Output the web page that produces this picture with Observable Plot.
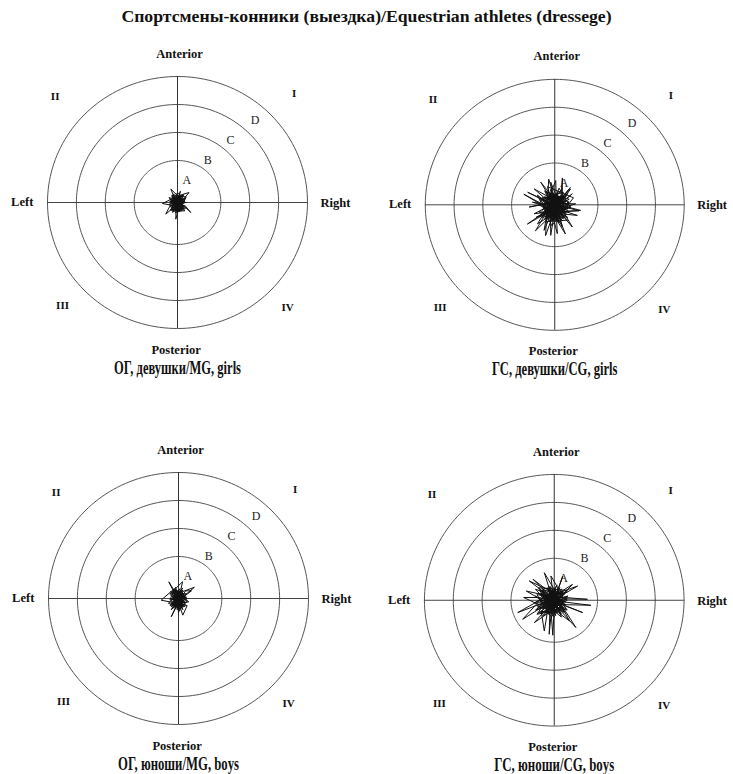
<!DOCTYPE html>
<html><head><meta charset="utf-8">
<script src="https://cdn.jsdelivr.net/npm/d3@7"></script>
<script src="https://cdn.jsdelivr.net/npm/@observablehq/plot@0.6"></script>
<style>
body{margin:0;background:#fff;}
#page{position:relative;width:733px;height:774px;overflow:hidden;font-family:"Liberation Serif","Times New Roman",serif;background:#fff;}
#title{position:absolute;left:0;top:6px;width:733px;text-align:center;font-weight:bold;font-size:17.7px;color:#111;}
.panel{position:absolute;}
</style></head><body>
<div id="page"><div id="title">Спортсмены-конники (выездка)/Equestrian athletes (dressege)</div></div>
<script>
// ---------- data ----------
const panelTitles = ["ОГ, девушки/MG, girls", "ГС, девушки/CG, girls", "ОГ, юноши/MG, boys", "ГС, юноши/CG, boys"];
const directionLabels = ["Anterior", "Posterior", "Left", "Right"];
const quadrantLabels = ["I", "II", "III", "IV"];
const ringLabels = ["A", "B", "C", "D"];
const ringRadii = [3, 5, 7, 9];

// statokinesigram traces (units, x = left/right, y = posterior/anterior)
const mgGirlsX = [0,0.3,-0.2,0.1,-0.4,0.5,-0.1,-0.46,-0.2,0.2,-0.3,0.4,0.1,0.8,0.3,-0.5,-1.04,-0.4,0.2,-0.1,-0.12,0.1,0.5,0.92,0.3,-0.3,-0.6,-0.81,-0.2,0.4,0.0,-0.3,0.2,0.6,-0.4,0.1,-0.5,0.3,0.0,-0.2,0.45,-0.1,0.25,-0.35,0.15,-0.55,0.35,0.05,-0.25,0.55,-0.15,0.2,-0.4,0.1,0.6,-0.2,0.0,0.3,-0.1,0.2,0.0,
  -0.3,0.2,-0.5,0.35,-0.15,0.45,-0.4,0.05,-0.6,0.3,-0.2,0.5,-0.35,0.15,-0.45,0.25,-0.1,0.4,-0.55,0.1,-0.25,0.35,-0.05,0.5,-0.4,0.2,-0.3,0.0,0.45,-0.6,0.15,-0.2,0.3,-0.5,0.1,-0.15,0.55,-0.35,0.05];
const mgGirlsY = [0,0.2,0.4,-0.3,-0.1,0.1,0.6,0.95,0.3,-0.2,-0.5,-0.4,0.5,0.71,0.1,0.2,-0.07,-0.2,0.3,-0.6,-1.19,-0.4,-0.2,-0.71,-0.1,0.1,-0.4,-0.83,-0.3,0.3,0.7,0.2,-0.5,0.4,0.5,0.0,-0.3,-0.6,0.2,-0.1,0.55,0.3,-0.35,-0.7,0.15,0.05,-0.05,-0.25,0.45,-0.45,-0.45,0.4,0.3,-0.1,0.0,0.1,-0.5,0.3,-0.2,0.8,0.1,
  -0.2,-0.6,0.1,0.25,-0.75,-0.3,0.45,-0.4,-0.15,0.5,-0.5,0.2,0.3,-0.65,-0.45,0.1,0.5,-0.55,0.25,-0.15,-0.35,-0.2,0.35,-0.6,-0.6,0.3,0.6,-0.7,0.05,0.35,-0.3,0.15,-0.45,-0.55,0.45,-0.2,0.3,0.0,0.05];

const cgGirlsX = [0,0.4,-1.88,-0.2,0.53,0.53,0.4,-0.5,-0.74,-0.1,1.22,0.2,-1.55,-0.3,0.18,0.1,1.8,0.3,-0.97,-0.2,-1.2,0.0,1.57,0.5,-0.28,-0.1,-1.78,-0.4,0.53,0.2,1.1,0.3,-1.43,-0.3,-0.28,0.0,1.45,0.4,-1.43,-0.5,0.07,0.1,1.22,0.4,-0.9,-0.2,0.8,-0.6,0.9,-0.8,0.2,-0.3,0.7,-1.0,0.6,-0.5,1.0,-0.7,0.3,-1.1,0.8,-0.4,0.5,-0.9,0.1,-0.5,1.3,-0.2,-1.2,0.9,-0.6,0.3,1.1,-1.3,0.6,-0.2,0.0,0.7,-0.8,0.4,-0.3,0.9,-0.7,0.2,-0.1,0.6,-0.5,0.2,-2.15,-0.4,0.74,0.1,-1.34,-0.2,1.68,0.3,-0.42,-0.64,0.2,1.09,-0.1,-1.9,0.0,
  0.2,-0.6,0.8,-0.3,0.5,-0.9,0.1,-0.4,1.0,-0.7,0.3,-0.2,0.7,-1.0,0.4,-0.5,0.9,-0.1,0.6,-0.8,0.2,-0.4,1.1,-0.6,0.0,0.5,-0.9,0.3,-0.2,0.8,-0.7,0.1,-0.3,0.6,-1.1,0.4,-0.5,0.9,-0.1,0.2,-0.8,0.7,-0.4,0.3,-0.6,1.0,-0.2,0.5,-1.0,0.1,-0.3,0.8,-0.5,0.0,0.4,-0.7,0.6,-0.1,0.2,-0.4,0.0];
const cgGirlsY = [0,-0.3,0.9,0.1,0.1,1.93,0.2,-0.4,-1.83,-0.3,0.79,-0.1,0.19,-0.2,-2.07,-0.5,-0.4,0.0,1.62,0.3,-1.36,-0.6,-0.76,-0.4,1.62,0.2,-0.16,0.1,-1.59,-0.2,1.14,0.3,-0.64,-0.5,-2.19,-0.4,0.07,0.1,1.14,0.3,1.74,0.4,-1.59,-0.6,-0.9,-0.1,0.6,0.5,-0.3,-0.2,0.8,-1.1,-0.9,0.4,0.9,-0.8,0.2,1.0,-1.2,-0.5,-0.6,0.7,0.4,0.0,-0.9,1.3,0.5,-1.5,0.7,-1.1,-1.2,1.2,-0.2,-0.9,0.2,0.9,-0.8,0.6,0.3,-0.9,0.5,0.0,-0.6,0.5,-1.0,-0.3,0.0,-0.7,0.76,-0.2,-2.09,-0.4,-1.86,0.1,-0.43,-0.5,1.84,-2.21,0.2,1.24,-0.3,-1.38,0.0,
  -0.4,0.2,-0.7,-1.0,0.7,-0.4,0.5,-0.6,-0.5,0.6,-1.3,0.4,0.1,-0.8,1.0,-0.1,-0.9,-0.7,0.5,0.1,-1.0,0.8,-0.1,-0.9,0.3,-0.6,0.5,0.6,-1.2,0.3,-0.3,-0.2,1.1,-1.0,0.0,0.2,-0.5,0.8,-0.5,0.9,-0.7,-0.3,0.3,-0.8,0.9,0.4,-0.3,-1.1,0.3,0.7,-0.8,-0.5,0.6,-1.0,0.4,-1.0,0.0,0.6,-0.6,-0.2,0.0];

const mgBoysX = [0,0.3,-0.2,0.4,-0.5,0.1,-0.3,0.2,-0.67,-0.2,0.5,-0.1,0.3,1.1,0.4,-0.4,-1.2,-0.3,0.2,-0.5,-0.1,0.6,0.3,0.0,-0.6,0.28,0.1,0.71,0.2,-0.4,0.5,0.9,0.2,-0.6,-0.2,0.3,-0.35,0.45,0.0,-0.5,0.25,-0.15,0.55,-0.45,0.1,-0.25,0.35,-0.7,0.15,0.6,-0.3,0.05,-0.55,0.4,0.0,-0.1,0.3,-0.2,0.1,
  -0.4,0.3,-0.2,0.5,-0.6,0.2,-0.3,0.4,-0.5,0.1,-0.15,0.55,-0.45,0.25,-0.05,0.35,-0.6,0.15,-0.3,0.45,-0.2,0.3,-0.55,0.0,0.4,-0.35,0.2,-0.1,0.6,-0.4,0.1,-0.25,0.35,-0.5,0.05];
const mgBoysY = [0,-0.2,0.5,0.3,-0.4,0.7,0.1,-0.6,1.19,0.4,-0.1,-0.8,0.5,0.8,0.2,0.6,-0.12,-0.3,0.1,-1.3,-0.4,-0.5,-1.19,-0.3,0.3,1.2,0.3,-0.24,-0.3,-0.7,0.55,0.55,0.0,-0.1,0.8,-0.8,0.2,-0.35,0.45,-0.6,0.25,-0.15,0.1,0.35,-0.55,0.65,-0.6,-0.35,0.6,-0.25,-0.5,0.2,0.5,-0.05,-1.0,0.1,0.35,-0.25,0.0,
  -0.3,0.6,-0.7,-0.4,0.4,-0.1,0.7,0.1,-0.8,0.4,-0.45,0.35,0.15,-0.7,0.6,-0.2,-0.5,0.2,0.45,-0.6,0.0,0.75,-0.2,-0.6,0.4,-0.65,0.55,-0.3,0.0,0.6,-0.85,0.25,-0.45,0.0,0.15];

const cgBoysX = [0,-0.5,-2.53,-0.8,0.3,-1.73,-0.6,0.2,2.54,0.5,-0.3,-0.35,-0.2,0.4,1.27,0.3,-0.9,-2.19,-0.7,0.1,-0.69,-0.3,0.6,1.5,0.4,-0.5,-1.94,-0.8,0.2,2.3,0.7,-0.4,-1.38,-0.6,0.3,-0.23,-0.1,0.8,1.97,0.5,-1.0,-2.12,-1.1,0.0,-0.1,-0.2,0.5,1.62,0.6,-0.7,-1.47,-0.6,0.4,1.06,0.3,-0.9,-0.69,-0.5,0.1,0.6,0.3,-1.2,0.9,-1.0,0.7,-0.4,0.5,-1.3,0.2,-0.8,0.9,-1.1,0.0,-0.6,0.8,-1.4,0.4,-0.3,-0.9,0.6,-1.2,0.2,-0.5,0.95,-0.7,0.1,-1.3,0.5,-0.2,-0.8,0.3,-0.4,0.0,
  0.2,-0.9,0.6,-0.4,0.8,-1.1,0.3,-0.6,0.9,-0.8,0.1,-0.3,0.7,-1.2,0.4,-0.5,0.6,-0.9,0.0,-0.7,0.5,-0.2,0.9,-1.0,0.2,-0.6,0.7,-0.4,0.1,-1.3,0.5,-0.1,0.8,-0.8,0.3,-0.5,0.6,-1.1,0.0,-0.3,0.9,-0.7,0.4,-0.9,0.2,-0.4,0.7,-0.2,-1.2,0.1,-0.6,0.5,-0.3,0.0];
const cgBoysY = [0,0.3,-0.88,-0.2,0.4,1.38,0.5,-0.3,-0.36,-0.1,-0.6,-2.43,-0.8,0.2,1.14,0.5,0.1,-1.36,-0.4,0.6,1.97,0.7,-0.5,-1.95,-0.7,-0.2,0.66,0.4,0.1,0.07,0.2,-0.9,-1.6,-0.7,0.8,1.74,0.5,-0.4,-0.88,-0.3,0.2,0.2,-0.3,-0.5,-2.5,-1.1,0.6,1.02,0.4,0.9,1.5,0.6,-0.2,-1.48,-0.9,-0.8,-2.2,-1.0,0.3,1.74,0.9,-0.6,0.1,0.7,-0.9,1.0,-1.2,0.3,-0.6,-1.1,0.7,0.9,-1.2,0.2,-0.1,-0.2,0.9,-0.4,0.5,-0.6,-1.0,1.1,-0.5,0.3,-0.1,-0.9,0.8,0.0,0.2,-0.6,-0.3,0.4,0.0,
  -0.5,0.3,0.6,-1.0,-0.6,0.5,0.2,-0.8,0.0,0.8,-1.1,0.6,0.4,-0.4,-0.8,0.9,-0.2,-0.9,0.7,0.0,-1.0,0.3,0.6,-0.1,0.5,-0.5,-0.8,0.7,-0.3,-0.7,0.8,-0.8,-0.3,0.5,-0.6,0.1,0.3,-0.9,-0.6,1.0,-0.7,-0.3,0.6,0.7,-0.9,-0.1,0.0,-1.2,0.4,0.2,-0.9,-0.5,0.5,0.0];

const traces = [[mgGirlsX, mgGirlsY], [cgGirlsX, cgGirlsY], [mgBoysX, mgBoysY], [cgBoysX, cgBoysY]];

// ---------- layout ----------
const panelCenters = [[177, 202], [554.5, 205.3], [178.3, 598.3], [553.5, 599.8]];
const subtitleWidths = [127, 126, 121, 120];
const W = 360, H = 350, ML = 50, MT = 34;
const dirPos = {Anterior: [0.14, 10.64], Posterior: [-0.1, -10.5], Left: [-10.75, 0.05], Right: [10.94, -0.04]};
const quadPos = {I: [8.07, 7.82], II: [-8.47, 7.54], III: [-7.96, -7.39], IV: [7.62, -7.5]};
const ringPos = {A: [0.65, 1.57], B: [2.1, 3.0], C: [3.67, 4.43], D: [5.37, 5.88]};

const circlePts = ringRadii.flatMap(r => d3.range(0, 361, 2).map(a => ({r, x: r * Math.cos(a * Math.PI / 180), y: r * Math.sin(a * Math.PI / 180)})));

const page = document.getElementById("page");
traces.forEach(([xs, ys], i) => {
  const pts = xs.map((x, k) => ({x, y: ys[k]}));
  const chart = Plot.plot({
    width: W, height: H,
    marginLeft: ML, marginRight: W - ML - 260, marginTop: MT, marginBottom: H - MT - 252,
    x: {domain: [-9, 9], axis: null},
    y: {domain: [-9, 9], axis: null},
    style: {fontFamily: "'Liberation Serif','Times New Roman',serif", background: "transparent", overflow: "visible"},
    marks: [
      Plot.line(circlePts, {x: "x", y: "y", z: "r", stroke: "#555", strokeWidth: 1}),
      Plot.ruleY([0], {x1: -9, x2: 9, stroke: "#444", strokeWidth: 1}),
      Plot.ruleX([0], {y1: -9, y2: 9, stroke: "#333", strokeWidth: 1}),
      Plot.line(pts, {x: "x", y: "y", stroke: "#111", strokeWidth: 1}),
      Plot.text(ringLabels, {x: d => ringPos[d][0], y: d => ringPos[d][1], text: d => d, fontSize: 12, fill: "#222"}),
      Plot.text(directionLabels, {x: d => dirPos[d][0], y: d => dirPos[d][1], text: d => d, fontSize: 12.5, fontWeight: "bold", fill: "#111"}),
      Plot.text(quadrantLabels, {x: d => quadPos[d][0], y: d => quadPos[d][1], text: d => d, fontSize: 11, fontWeight: "bold", fill: "#111"}),
      Plot.text([panelTitles[i]], {x: 0, y: -11.8, text: d => d, fontSize: 18.5, fontWeight: "bold", fill: "#111"})
    ]
  });
  chart.querySelectorAll("text").forEach(t => {
    if (t.textContent === panelTitles[i]) {
      t.setAttribute("textLength", subtitleWidths[i]);
      t.setAttribute("lengthAdjust", "spacingAndGlyphs");
    }
  });
  const div = document.createElement("div");
  div.className = "panel";
  div.style.left = (panelCenters[i][0] - ML - 130) + "px";
  div.style.top = (panelCenters[i][1] - MT - 126) + "px";
  div.appendChild(chart);
  page.appendChild(div);
});
</script>
</body></html>
